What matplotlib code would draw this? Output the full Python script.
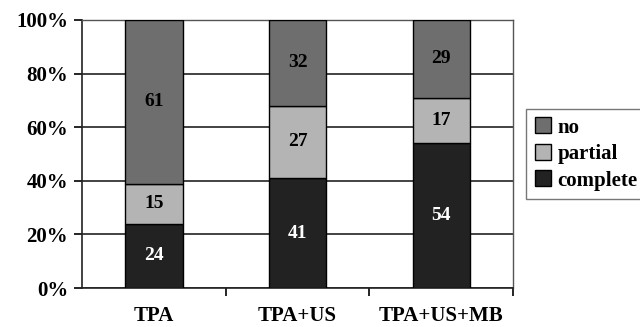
import numpy as np
import matplotlib.pyplot as plt

# data
groups = ['TPA', 'TPA+US', 'TPA+US+MB']
complete = [24, 41, 54]
partial = [15, 27, 17]
no = [61, 32, 29]

colors = {'complete': '#222222', 'partial': '#b4b4b4', 'no': '#6e6e6e'}

plt.rcParams['font.family'] = ['Liberation Serif', 'DejaVu Serif']
plt.rcParams['font.weight'] = 'bold'

fig = plt.figure(figsize=(6.4, 3.27), dpi=100)
ax = fig.add_axes([0.128, 0.119, 0.674, 0.820])

x = np.arange(len(groups))
w = 0.4
bottom = np.zeros(len(groups))
bars = {}
for name, vals, tc in [('complete', complete, 'white'),
                       ('partial', partial, 'black'),
                       ('no', no, 'black')]:
    vals = np.array(vals)
    bars[name] = ax.bar(x, vals, w, bottom=bottom, color=colors[name],
                        edgecolor='black', linewidth=1.0, zorder=3)
    for xi, b, v in zip(x, bottom, vals):
        ax.text(xi, b + v / 2, str(v), ha='center', va='center',
                color=tc, fontsize=14, fontweight='bold', zorder=4)
    bottom = bottom + vals

ax.set_xlim(-0.5, 2.5)
ax.set_ylim(0, 100)
ax.set_yticks([0, 20, 40, 60, 80, 100])
ax.set_yticklabels(['%d%%' % v for v in [0, 20, 40, 60, 80, 100]],
                   fontsize=15, fontweight='bold')
ax.yaxis.grid(True, color='#222222', linewidth=1.2, zorder=0)
ax.set_axisbelow(True)

ax.set_xticks(x)
ax.set_xticklabels(groups, fontsize=15, fontweight='bold')
ax.tick_params(axis='x', length=0, pad=13)
ax.set_xticks([0.5, 1.5, 2.5], minor=True)
ax.tick_params(axis='x', which='minor', length=6, width=1.2, direction='out')
ax.tick_params(axis='y', length=6, width=1.2, direction='out', pad=4)

for s in ['left', 'bottom']:
    ax.spines[s].set_linewidth(1.2)
    ax.spines[s].set_color('#222222')
for s in ['top', 'right']:
    ax.spines[s].set_linewidth(1.0)
    ax.spines[s].set_color('#555555')

leg = ax.legend([bars['no'], bars['partial'], bars['complete']],
                ['no', 'partial', 'complete'],
                loc='center left', bbox_to_anchor=(1.03, 0.5),
                prop={'size': 15, 'weight': 'bold'},
                handlelength=0.8, handleheight=0.8, handletextpad=0.3,
                borderpad=0.4, labelspacing=0.3, borderaxespad=0,
                fancybox=False, edgecolor='#777777', framealpha=1)

fig.savefig('out.png', dpi=100)
